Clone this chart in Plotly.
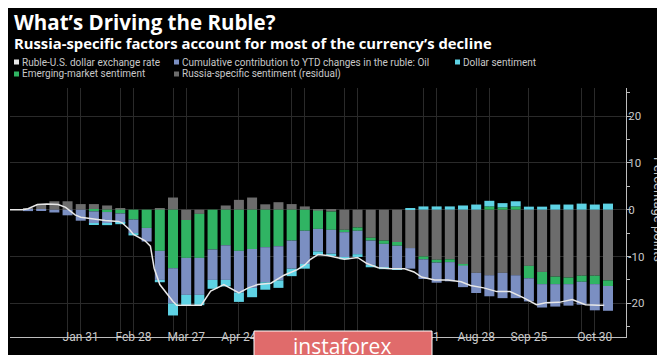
import plotly.graph_objects as go
import pandas as pd

# ---------------- data ----------------
bar_dates = pd.date_range("2020-01-03", periods=45, freq="7D")  # weekly, Fridays

russia = [0.3, 1.2, 1.8, 1.8, 1.2, 1.2, 0.9, 0.2, 0.0, 0.0,
          0.3, 2.6, -2.2, -0.9, 0.0, 0.9, 2.1, 2.6, 1.15, 1.6,
          1.2, 0.7, -0.2, -0.4, -4.3, -3.8, -6.0, -6.6, -6.9, -8.2,
          -10.0, -10.7, -10.6, -11.75, -13.5, -14.0, -13.5, -14.0, -12.0, -13.3,
          -14.3, -14.5, -14.1, -14.1, -15.1]
em = [0.0, 0.0, 0.0, 0.0, 0.0, -0.35, -0.5, -0.8, -2.1, -3.9,
      -8.8, -12.5, -8.1, -9.4, -8.5, -7.6, -8.8, -8.4, -8.0, -7.8,
      -6.6, -4.5, -3.9, -3.9, -0.5, -0.7, -0.6, -0.7, -0.8, 0.0,
      -0.6, -0.6, -0.6, -0.2, 0.0, 0.7, 0.5, 0.7, -2.65, -2.6,
      -1.6, -1.4, -1.3, -1.8, -1.2]
oil = [-0.3, -0.2, -0.6, -1.2, -2.35, -2.5, -2.4, -2.0, -2.9, -2.9,
       -6.2, -7.5, -7.9, -7.9, -6.5, -7.4, -8.9, -8.3, -7.5, -7.3,
       -6.0, -7.1, -4.8, -5.1, -5.4, -5.0, -5.2, -5.0, -4.8, -4.4,
       -4.2, -4.3, -4.1, -4.6, -4.3, -4.5, -5.4, -4.9, -4.95, -5.0,
       -4.8, -4.6, -4.9, -5.6, -5.3]
dollar = [0.0, 0.0, 0.0, 0.0, 0.0, -0.35, -0.4, -0.3, -0.5, 0.0,
          -0.5, -2.6, -2.2, -2.2, -1.9, -1.4, -2.0, -2.0, -1.6, -1.6,
          -1.6, -1.0, -0.8, -0.5, -0.4, -0.6, -0.5, -0.4, -0.2, 0.2,
          0.7, 0.7, 0.7, 0.9, 1.1, 1.2, 0.9, 1.1, 0.65, 0.65,
          1.1, 1.1, 1.3, 1.1, 1.3]

ruble_dates = ["2019-12-24", "2019-12-31", "2020-01-03", "2020-01-08", "2020-01-13",
               "2020-01-19", "2020-01-23", "2020-01-28", "2020-01-31", "2020-02-05",
               "2020-02-13", "2020-02-20", "2020-02-22", "2020-02-26", "2020-02-28",
               "2020-03-05", "2020-03-08", "2020-03-10", "2020-03-12", "2020-03-13",
               "2020-03-20", "2020-03-22", "2020-04-04", "2020-04-09", "2020-04-16",
               "2020-04-24", "2020-04-29", "2020-05-04", "2020-05-11", "2020-05-18",
               "2020-05-25", "2020-05-29", "2020-06-01", "2020-06-05", "2020-06-10",
               "2020-06-19", "2020-06-26", "2020-07-01", "2020-07-07", "2020-07-14",
               "2020-07-21", "2020-07-26", "2020-07-30", "2020-08-06", "2020-08-13",
               "2020-08-20", "2020-08-25", "2020-09-01", "2020-09-08", "2020-09-15",
               "2020-09-22", "2020-09-29", "2020-10-04", "2020-10-11", "2020-10-18",
               "2020-10-25", "2020-11-01", "2020-11-04"]
ruble = [0.0, 0.0, 0.2, 1.1, 1.2,
         1.1, 0.5, -1.1, -1.6, -1.9,
         -2.3, -2.5, -2.8, -4.3, -5.3,
         -6.6, -7.8, -12.5, -14.6, -16.0,
         -19.6, -20.4, -20.4, -17.4, -16.0,
         -17.8, -16.7, -16.0, -15.7, -14.0,
         -12.8, -11.8, -10.6, -9.6, -9.8,
         -10.6, -10.2, -11.5, -12.4, -12.6,
         -12.6, -13.3, -14.4, -15.0, -15.0,
         -15.4, -16.2, -16.7, -17.5, -17.5,
         -18.8, -20.3, -19.9, -19.8, -19.2,
         -20.3, -20.4, -20.4]

tick_dates = ["2020-01-31", "2020-02-28", "2020-03-27", "2020-04-24", "2020-05-29",
              "2020-06-26", "2020-07-31", "2020-08-28", "2020-09-25", "2020-10-30"]
tick_text = ["Jan 31", "Feb 28", "Mar 27", "Apr 24", "May 29",
             "Jun 26", "Jul 31", "Aug 28", "Sep 25", "Oct 30"]
extra_grid_dates = ["2020-01-24", "2020-02-21", "2020-03-20", "2020-05-22",
                    "2020-06-19", "2020-08-07", "2020-09-04", "2020-10-23"]
y_ticks = [-20, -10, 0, 10, 20]
y_tick_text = ["-20", "-10", "0", "10", "20"]

# ---------------- styling ----------------
C_LINE = "#e8e8e8"
C_OIL = "#7b8fc2"
C_DOLLAR = "#5ed2e4"
C_EM = "#30b463"
C_RUSSIA = "#6c6c6c"
TXT = "#c8c8c8"
GRID = "#2a2a2a"

W, H = 665, 355
ML, MR, MT, MB = 2, 47, 80, 26
PW = W - ML - MR
PH = H - MT - MB


def px(xp):
    return (xp - ML) / PW


def py(yp):
    return (H - MB - yp) / PH


bar_w = 5.3 * 86400000

fig = go.Figure()
for name, vals, col in [("Russia-specific sentiment (residual)", russia, C_RUSSIA),
                        ("Emerging-market sentiment", em, C_EM),
                        ("Cumulative contribution to YTD changes in the ruble: Oil", oil, C_OIL),
                        ("Dollar sentiment", dollar, C_DOLLAR)]:
    fig.add_trace(go.Bar(x=bar_dates, y=vals, name=name, marker_color=col,
                         marker_line_width=0, width=bar_w))
fig.add_trace(go.Scatter(x=ruble_dates, y=ruble, mode="lines", name="Ruble-U.S. dollar exchange rate",
                         line=dict(color=C_LINE, width=1.5)))

fig.update_layout(
    width=W, height=H, barmode="relative", showlegend=False,
    paper_bgcolor="black", plot_bgcolor="black",
    margin=dict(l=ML, r=MR, t=MT, b=MB),
    font=dict(family="Roboto", color=TXT),
    xaxis=dict(type="date", range=["2019-12-24 10:30", "2020-11-15 13:30"],
               tickmode="array", tickvals=tick_dates, ticktext=tick_text,
               tickfont=dict(size=12, color=TXT), ticks="", showgrid=True,
               ticklabelstandoff=-11,
               gridcolor=GRID, gridwidth=1, zeroline=False, showline=True,
               linecolor="#bdbdbd", linewidth=1,
               minor=dict(tickmode="array", tickvals=extra_grid_dates, showgrid=True,
                          gridcolor=GRID, gridwidth=1, ticks="")),
    yaxis=dict(side="right", range=[-27.2, 26.0], tickmode="array", tickvals=y_ticks,
               ticktext=y_tick_text, ticklabelstandoff=-5,
               tickfont=dict(size=11.5, color=TXT), ticks="outside", ticklen=4,
               tickcolor="#bdbdbd", showgrid=True, gridcolor=GRID, gridwidth=1,
               zeroline=False, showline=True, linecolor="#bdbdbd", linewidth=1,
               minor=dict(dtick=5, ticks="outside", ticklen=3, tickcolor="#bdbdbd",
                          showgrid=False)),
)

ann = []
ann.append(dict(text="<b>What’s Driving the Ruble?</b>", x=px(4), y=py(14),
                xref="paper", yref="paper", xanchor="left", yanchor="middle",
                showarrow=False, font=dict(family="Open Sans", size=20.5, color="white")))
ann.append(dict(text="<b>Russia-specific factors account for most of the currency’s decline</b>",
                x=px(4), y=py(35), xref="paper", yref="paper", xanchor="left",
                yanchor="middle", showarrow=False,
                font=dict(family="Open Sans", size=14.8, color="white")))
ann.append(dict(text="Percentage points", x=px(651), y=py(201), xref="paper", yref="paper",
                xanchor="center", yanchor="middle", textangle=90, showarrow=False,
                font=dict(size=13, color=TXT)))

legend_items = [("Ruble-U.S. dollar exchange rate", C_LINE, 6, 54),
                ("Cumulative contribution to YTD changes in the ruble: Oil", C_OIL, 166, 54),
                ("Dollar sentiment", C_DOLLAR, 447, 54),
                ("Emerging-market sentiment", C_EM, 6, 66),
                ("Russia-specific sentiment (residual)", C_RUSSIA, 166, 66)]
shapes = []
for label, col, lx, ly in legend_items:
    shapes.append(dict(type="rect", xref="paper", yref="paper",
                       x0=px(lx), x1=px(lx + 5), y0=py(ly + 2.5), y1=py(ly - 2.5),
                       fillcolor=col, line=dict(width=0)))
    ann.append(dict(text=label, x=px(lx + 6), y=py(ly), xref="paper", yref="paper",
                    xanchor="left", yanchor="middle", showarrow=False,
                    font=dict(size=10, color=TXT)))

# watermark box overlaid on the reference image
shapes.append(dict(type="rect", xref="paper", yref="paper",
                   x0=px(246), x1=px(424), y0=py(356), y1=py(323),
                   fillcolor="#e06b6b", line=dict(color="white", width=1), layer="above"))
ann.append(dict(text="instaforex", x=px(334), y=py(338), xref="paper", yref="paper",
                xanchor="center", yanchor="middle", showarrow=False,
                font=dict(family="Open Sans", size=21, color="white")))

fig.update_layout(annotations=ann, shapes=shapes)
fig.write_html("out.html")
